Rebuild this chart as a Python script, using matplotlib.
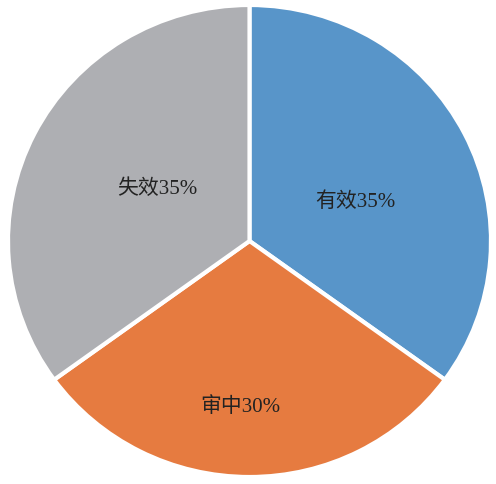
import matplotlib
matplotlib.use('Agg')
import matplotlib.pyplot as plt

labels = ['有效', '审中', '失效']
values = [35, 30, 35]
colors = ['#5895C9', '#E67B40', '#AEAFB3']
# label anchor points in axes data coords (-1..1)
label_x = [0.44, -0.04, -0.38]
label_y = [0.17, -0.70, 0.225]

fig = plt.figure(figsize=(4.96, 4.85), dpi=100)
ax = fig.add_axes([8 / 496, 7 / 485, 483 / 496, 472 / 485])
ax.pie(values, colors=colors, startangle=90, counterclock=False,
       wedgeprops=dict(edgecolor='white', linewidth=3))
ax.set_aspect('auto')
ax.set_xlim(-1, 1)
ax.set_ylim(-1, 1)

for lab, v, x, y in zip(labels, values, label_x, label_y):
    ax.text(x, y, f'{lab}{v}%', ha='center', va='center', fontsize=15,
            color='#222222', family=['Liberation Serif', 'Noto Sans CJK SC'])

fig.savefig('out.png', dpi=100)
